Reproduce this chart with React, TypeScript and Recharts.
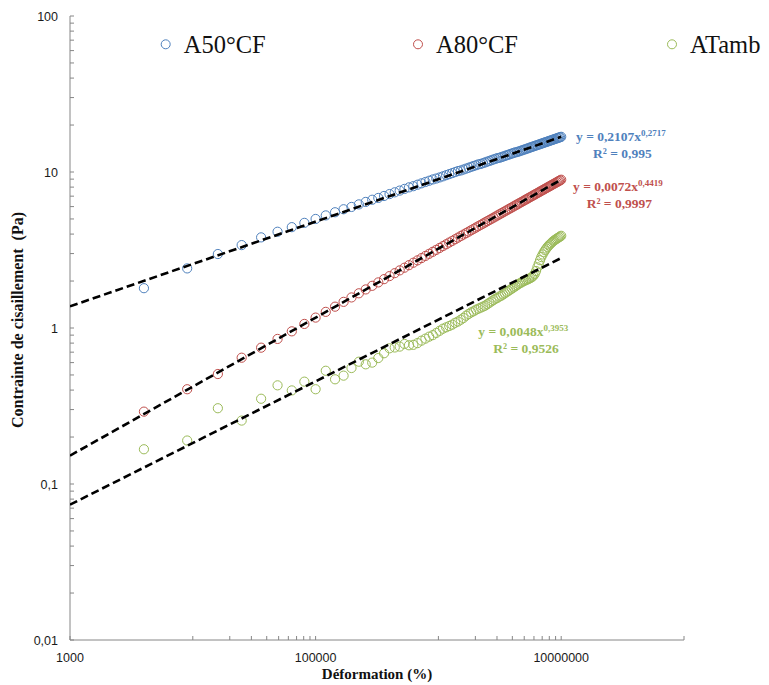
import { Legend, Scatter, ScatterChart, XAxis, YAxis } from "recharts";

// Déformation (%), shared by the three samples
const deformation = [
  4000, 9000, 16000, 25000, 36000, 49000, 64000, 81000, 100000,
  121000, 144000, 169000, 196000, 225000, 256000, 289000, 324000, 361000, 400000,
  441000, 484000, 529000, 576000, 625000, 676000, 729000, 784000, 841000, 900000,
  961000, 1024000, 1089000, 1156000, 1225000, 1296000, 1369000, 1444000, 1521000, 1600000,
  1681000, 1764000, 1849000, 1936000, 2025000, 2116000, 2209000, 2304000, 2401000, 2500000,
  2601000, 2704000, 2809000, 2916000, 3025000, 3136000, 3249000, 3364000, 3481000, 3600000,
  3721000, 3844000, 3969000, 4096000, 4225000, 4356000, 4489000, 4624000, 4761000, 4900000,
  5041000, 5184000, 5329000, 5476000, 5625000, 5776000, 5929000, 6084000, 6241000, 6400000,
  6561000, 6724000, 6889000, 7056000, 7225000, 7396000, 7569000, 7744000, 7921000, 8100000,
  8281000, 8464000, 8649000, 8836000, 9025000, 9216000, 9409000, 9604000, 9801000, 10000000,
];

// Contrainte de cisaillement (Pa)
const a50cf = [
  1.8, 2.41, 2.98, 3.4, 3.81, 4.14, 4.43, 4.72, 5.0,
  5.27, 5.52, 5.77, 5.97, 6.2, 6.43, 6.64, 6.82, 7.02, 7.22,
  7.41, 7.6, 7.79, 7.97, 8.11, 8.29, 8.46, 8.63, 8.79, 8.96,
  9.08, 9.23, 9.38, 9.54, 9.69, 9.84, 9.99, 10.14, 10.23, 10.37,
  10.51, 10.65, 10.79, 10.92, 11.05, 11.19, 11.26, 11.39, 11.52, 11.65,
  11.78, 11.9, 12.03, 12.15, 12.27, 12.33, 12.45, 12.56, 12.68, 12.8,
  12.91, 13.03, 13.14, 13.25, 13.36, 13.41, 13.52, 13.63, 13.74, 13.85,
  13.95, 14.06, 14.16, 14.27, 14.38, 14.48, 14.58, 14.69, 14.79, 14.89,
  14.99, 15.09, 15.19, 15.29, 15.39, 15.49, 15.58, 15.68, 15.78, 15.87,
  15.97, 16.06, 16.16, 16.25, 16.35, 16.44, 16.53, 16.63, 16.72, 16.81,
];

const a80cf = [
  0.291, 0.405, 0.507, 0.645, 0.748, 0.851, 0.952, 1.062, 1.166,
  1.269, 1.37, 1.471, 1.57, 1.669, 1.767, 1.864, 1.96, 2.057, 2.152,
  2.247, 2.341, 2.435, 2.528, 2.621, 2.714, 2.806, 2.897, 2.989, 3.08,
  3.17, 3.26, 3.35, 3.44, 3.53, 3.618, 3.707, 3.795, 3.884, 3.972,
  4.059, 4.146, 4.234, 4.32, 4.407, 4.494, 4.58, 4.666, 4.752, 4.838,
  4.923, 5.008, 5.093, 5.178, 5.263, 5.347, 5.432, 5.515, 5.6, 5.684,
  5.767, 5.85, 5.933, 6.016, 6.099, 6.182, 6.265, 6.347, 6.428, 6.511,
  6.595, 6.676, 6.758, 6.839, 6.921, 7.003, 7.084, 7.165, 7.246, 7.328,
  7.408, 7.488, 7.57, 7.65, 7.73, 7.81, 7.89, 7.97, 8.051, 8.129,
  8.21, 8.29, 8.37, 8.448, 8.528, 8.607, 8.687, 8.765, 8.844, 8.924,
];

const atamb = [
  0.167, 0.19, 0.306, 0.255, 0.352, 0.429, 0.398, 0.453, 0.405,
  0.532, 0.469, 0.495, 0.554, 0.608, 0.585, 0.6, 0.642, 0.689, 0.741,
  0.75, 0.76, 0.79, 0.775, 0.78, 0.8, 0.83, 0.855, 0.88, 0.9,
  0.93, 0.96, 0.99, 1.01, 1.03, 1.05, 1.08, 1.1, 1.13, 1.16,
  1.2, 1.23, 1.26, 1.28, 1.31, 1.33, 1.35, 1.37, 1.39, 1.42,
  1.45, 1.48, 1.51, 1.54, 1.56, 1.59, 1.61, 1.64, 1.67, 1.7,
  1.73, 1.76, 1.79, 1.82, 1.85, 1.88, 1.91, 1.94, 1.96, 1.99,
  2.01, 2.03, 2.05, 2.07, 2.09, 2.12, 2.16, 2.22, 2.32, 2.45,
  2.58, 2.72, 2.85, 2.96, 3.06, 3.15, 3.23, 3.31, 3.38, 3.44,
  3.5, 3.56, 3.61, 3.66, 3.7, 3.74, 3.78, 3.82, 3.86, 3.9,
];

// power-law trend lines (ends of each fit)
const trendX = [1000, 10000000];
const trendA50 = [1.376, 16.8];
const trendA80 = [0.152, 8.93];
const trendAtamb = [0.0737, 2.81];

const trendCoef = ["0,2107", "0,0072", "0,0048"];
const trendExp = ["0,2717", "0,4419", "0,3953"];
const trendR2 = ["0,995", "0,9997", "0,9526"];

const xTicks = [
  1000, 10000, 20000, 30000, 40000, 50000, 60000, 70000, 80000, 90000, 100000,
  1000000, 2000000, 3000000, 4000000, 5000000, 6000000, 7000000, 8000000, 9000000,
  10000000, 100000000,
];
const xLabelled = [1000, 100000, 10000000];

const yTicks = [
  0.01, 0.02, 0.03, 0.04, 0.05, 0.06, 0.07, 0.08, 0.09,
  0.1, 0.2, 0.3, 0.4, 0.5, 0.6, 0.7, 0.8, 0.9,
  1, 2, 3, 4, 5, 6, 7, 8, 9,
  10, 20, 30, 40, 50, 60, 70, 80, 90, 100,
];
const yLabelled = [0.01, 0.1, 1, 10, 100];

const seriesNames = ["A50°CF", "A80°CF", "ATamb"];
const seriesColors = ["#4F81BD", "#C0504D", "#9BBB59"];

const W = 761;
const H = 677;
const AXIS = "#868686";
const SERIF = '"Liberation Serif", "Times New Roman", serif';
const NARROW = '"Liberation Sans Narrow", "Liberation Sans", Arial, sans-serif';

const toPoints = (ys: number[]) => deformation.map((x, i) => ({ x, y: ys[i] }));
const toTrend = (ys: number[]) => trendX.map((x, i) => ({ x, y: ys[i] }));

const ring = (color: string) => (p: any) =>
  <circle cx={p.cx} cy={p.cy} r={4.6} fill="none" stroke={color} strokeWidth={1} />;
const noDot = () => <g />;
const dashed = { stroke: "#000", strokeWidth: 2.6, strokeDasharray: "8 4" };

function XTick({ x, y, payload }: any) {
  return (
    <g>
      <line x1={x} x2={x} y1={y} y2={y - 4} stroke={AXIS} />
      {xLabelled.includes(payload.value) && (
        <text x={x} y={y + 22} textAnchor="middle" fontSize={12.5} fontFamily={NARROW} fill="#1a1a1a">
          {payload.value}
        </text>
      )}
    </g>
  );
}

function YTick({ x, y, payload }: any) {
  return (
    <g>
      <line x1={x} x2={x + 4} y1={y} y2={y} stroke={AXIS} />
      {yLabelled.includes(payload.value) && (
        <text x={x - 12} y={y + 4.5} textAnchor="end" fontSize={12.5} fontFamily={NARROW} fill="#1a1a1a">
          {String(payload.value).replace(".", ",")}
        </text>
      )}
    </g>
  );
}

// legend sits across the top of the plot
const legendPos = [157.7, 410, 664];
function TopLegend() {
  return (
    <svg width={W} height={56} style={{ overflow: "visible" }}>
      {seriesNames.map((name, i) => (
        <g key={name}>
          <circle cx={legendPos[i]} cy={36.3} r={4.5} fill="none" stroke={seriesColors[i]} strokeWidth={1} />
          <text x={legendPos[i] + 18} y={44.7} fontSize={24.5} fontFamily={SERIF} fill="#111">
            {name}
          </text>
        </g>
      ))}
    </svg>
  );
}

const eqPos = [
  { x: 568, y: 132.5, rx: 585 },
  { x: 565, y: 182.7, rx: 578.7 },
  { x: 470.3, y: 328, rx: 485.3 },
];

export default function App() {
  return (
    <div style={{ position: "relative", width: W, height: H, background: "#fff" }}>
      <ScatterChart width={W} height={H} margin={{ top: 8, right: 85, bottom: 44, left: 61 }}>
        <XAxis
          type="number"
          dataKey="x"
          scale="log"
          domain={[1000, 100000000]}
          allowDataOverflow
          ticks={xTicks}
          interval={0}
          tick={<XTick />}
          tickLine={false}
          tickSize={0}
          tickMargin={0}
          height={1}
          axisLine={{ stroke: AXIS }}
        />
        <YAxis
          type="number"
          dataKey="y"
          scale="log"
          domain={[0.01, 100]}
          allowDataOverflow
          ticks={yTicks}
          interval={0}
          tick={<YTick />}
          tickLine={false}
          tickSize={0}
          tickMargin={0}
          width={1}
          axisLine={{ stroke: AXIS }}
        />
        <Legend
          layout="horizontal"
          verticalAlign="middle"
          align="center"
          wrapperStyle={{ top: 0, left: 0, width: W, overflow: "visible" }}
          content={() => <TopLegend />}
        />
        <Scatter name={seriesNames[0]} data={toPoints(a50cf)} shape={ring(seriesColors[0])} isAnimationActive={false} />
        <Scatter name={seriesNames[1]} data={toPoints(a80cf)} shape={ring(seriesColors[1])} isAnimationActive={false} />
        <Scatter name={seriesNames[2]} data={toPoints(atamb)} shape={ring(seriesColors[2])} isAnimationActive={false} />
        <Scatter data={toTrend(trendA50)} line={dashed} shape={noDot} legendType="none" isAnimationActive={false} />
        <Scatter data={toTrend(trendA80)} line={dashed} shape={noDot} legendType="none" isAnimationActive={false} />
        <Scatter data={toTrend(trendAtamb)} line={dashed} shape={noDot} legendType="none" isAnimationActive={false} />
      </ScatterChart>

      <svg width={W} height={H} style={{ position: "absolute", top: 0, left: 0, pointerEvents: "none" }}>
        {eqPos.map((p, i) => (
          <g key={i} fill={seriesColors[i]} fontFamily={SERIF} fontWeight="bold" fontSize={13.5}>
            <text x={p.x} y={p.y}>
              y = {trendCoef[i]}x
              <tspan dy={-5} fontSize={9}>{trendExp[i]}</tspan>
            </text>
            <text x={p.rx} y={p.y + 17}>R² = {trendR2[i]}</text>
          </g>
        ))}
        <text x={369} y={671} textAnchor="middle" fontFamily={SERIF} fontWeight="bold" fontSize={15} fill="#111">
          Déformation (%)
        </text>
        <text
          x={15}
          y={312}
          transform="rotate(-90 15 312)"
          textAnchor="middle"
          fontFamily={SERIF}
          fontWeight="bold"
          fontSize={16}
          fill="#111"
          style={{ whiteSpace: "pre" }}
        >
          Contrainte de cisaillement  (Pa)
        </text>
      </svg>
    </div>
  );
}
